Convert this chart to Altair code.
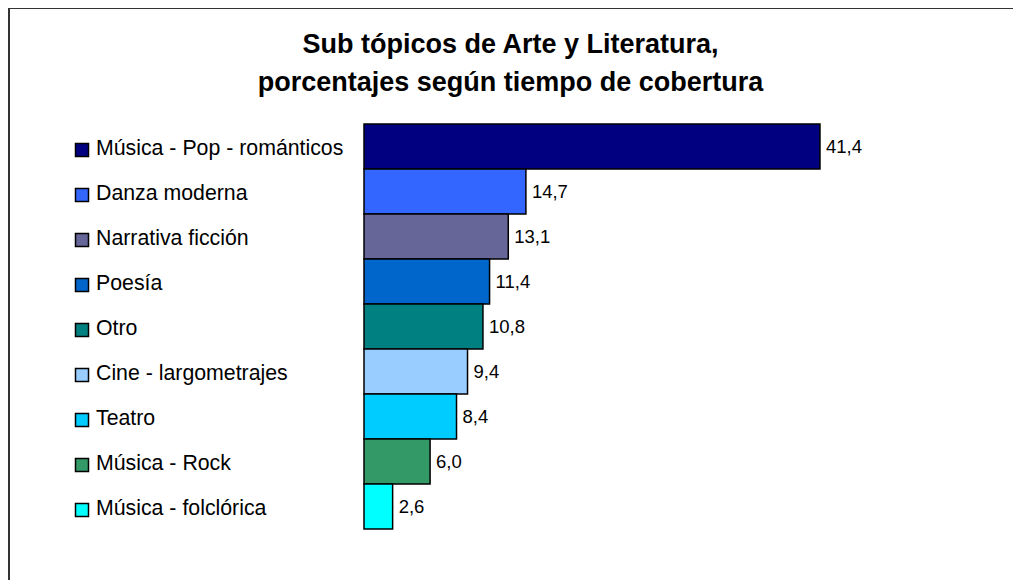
import altair as alt
import pandas as pd

categories = ["Música - Pop - románticos", "Danza moderna", "Narrativa ficción", "Poesía",
              "Otro", "Cine - largometrajes", "Teatro", "Música - Rock", "Música - folclórica"]
values = [41.4, 14.7, 13.1, 11.4, 10.8, 9.4, 8.4, 6.0, 2.6]
colors = ["#000080", "#3366FF", "#666699", "#0066CC", "#008080",
          "#99CCFF", "#00CCFF", "#339966", "#00FFFF"]
title_lines = ["Sub tópicos de Arte y Literatura,", "porcentajes según tiempo de cobertura"]

df = pd.DataFrame({
    "cat": categories,
    "val": values,
    "lab": [f"{v:.1f}".replace(".", ",") for v in values],
})

W, H = 1005, 572
FONT = "Arial"

y_scale = alt.Scale(range=[116, 521], paddingInner=0, paddingOuter=0)
y_enc = alt.Y("cat:N", sort=categories, axis=None, scale=y_scale)
x_scale = alt.Scale(domain=[0, 50], range=[356, 906.7], nice=False, zero=True)
color_enc = alt.Color("cat:N", scale=alt.Scale(domain=categories, range=colors), legend=None)

base = alt.Chart(df)

bars = base.mark_bar(stroke="black", strokeWidth=1.5).encode(
    y=y_enc,
    x=alt.X("val:Q", scale=x_scale, axis=None),
    color=color_enc,
)

vals = base.mark_text(align="left", baseline="middle", dx=6, fontSize=18.5, font=FONT, color="black").encode(
    y=y_enc,
    x=alt.X("val:Q", scale=x_scale, axis=None),
    text="lab:N",
)

squares = base.mark_square(size=169, stroke="black", strokeWidth=1.5, opacity=1).encode(
    y=alt.Y("cat:N", sort=categories, axis=None, scale=y_scale, bandPosition=0.58),
    x=alt.value(74),
    color=color_enc,
)

labels = base.mark_text(align="left", baseline="middle", dy=2, fontSize=21.3, font=FONT, color="black").encode(
    y=y_enc,
    x=alt.value(88),
    text="cat:N",
)

one = pd.DataFrame({"a": [0]})
title1 = alt.Chart(one).mark_text(align="center", baseline="middle", fontSize=27, fontWeight="bold",
                                  font=FONT, color="black", text=title_lines[0]).encode(
    x=alt.value(W / 2), y=alt.value(37))
title2 = alt.Chart(one).mark_text(align="center", baseline="middle", fontSize=27, fontWeight="bold",
                                  font=FONT, color="black", text=title_lines[1]).encode(
    x=alt.value(W / 2), y=alt.value(75))

frame_left = alt.Chart(one).mark_rule(color="#333333", strokeWidth=2).encode(
    x=alt.value(1), y=alt.value(0), y2=alt.value(H))
frame_top = alt.Chart(one).mark_rule(color="#333333", strokeWidth=2).encode(
    y=alt.value(0), x=alt.value(0), x2=alt.value(W))

chart = alt.layer(bars, vals, squares, labels, title1, title2, frame_left, frame_top).properties(
    width=W, height=H, padding=0, autosize=alt.AutoSizeParams(type="none"),
    background="white",
).configure_view(stroke=None)

chart.save("out.html", embed_options={"renderer": "svg", "actions": False})
